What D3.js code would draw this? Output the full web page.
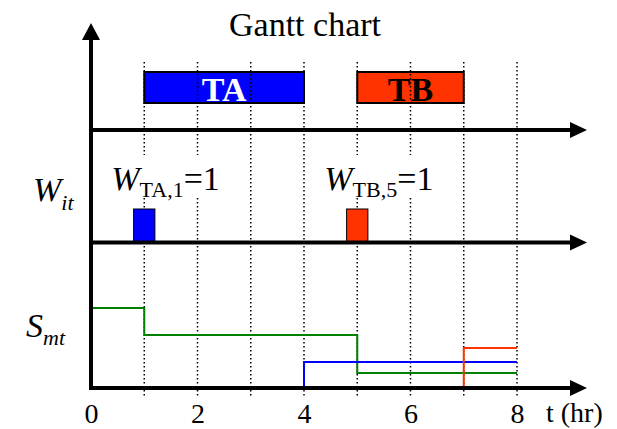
<!DOCTYPE html>
<html>
<head>
<meta charset="utf-8">
<script src="https://cdn.jsdelivr.net/npm/d3@7"></script>
<style>
  html, body { margin: 0; padding: 0; background: #fff; }
  svg, svg text { font-family: "Liberation Serif", "Times New Roman", serif !important; }
</style>
</head>
<body>
<div id="chart"></div>
<script>
// time grid (hours)
const gridHours = [1, 2, 3, 4, 5, 6, 7, 8];
const tickHours = [0, 2, 4, 6, 8];

// gantt tasks
const taskNames = ["TA", "TB"];
const taskStart = [1, 5];
const taskEnd = [4, 7];

// start indicators W_it
const startTask = ["TA", "TB"];
const startHour = [1, 5];

// state levels S_mt (step series)
const greenHours = [0, 1, 5, 8];
const greenLevels = [80, 53, 15, 15];
const blueHours = [4, 4, 8];
const blueLevels = [0, 26, 26];
const redHours = [7, 7, 8];
const redLevels = [0, 40, 40];

const width = 617;
const height = 429;
const originX = 91;
const ganttAxisY = 130;
const startAxisY = 242.5;
const stateAxisY = 388;
const axisEndX = 587;

const taskFill = { TA: "#0000ff", TB: "#ff3300" };
const taskText = { TA: "#ffffff", TB: "#000000" };

const svg = d3.select("#chart")
  .append("svg")
  .attr("width", width)
  .attr("height", height)
  .attr("viewBox", [0, 0, width, height]);

const x = d3.scaleLinear([0, 8], [originX, 517]);
const s = d3.scaleLinear([0, 80], [stateAxisY, 308]);

// title
svg.append("text")
  .attr("x", 305)
  .attr("y", 36)
  .attr("text-anchor", "middle")
  .attr("font-size", 34)
  .text("Gantt chart");

// gantt bars
const tasks = d3.range(taskNames.length);
svg.append("g")
  .selectAll("rect")
  .data(tasks)
  .join("rect")
  .attr("x", (i) => x(taskStart[i]))
  .attr("y", 72)
  .attr("width", (i) => x(taskEnd[i]) - x(taskStart[i]))
  .attr("height", 31)
  .attr("fill", (i) => taskFill[taskNames[i]])
  .attr("stroke", "#000")
  .attr("stroke-width", 2);

svg.append("g")
  .selectAll("text")
  .data(tasks)
  .join("text")
  .attr("x", (i) => (x(taskStart[i]) + x(taskEnd[i])) / 2)
  .attr("y", 101)
  .attr("text-anchor", "middle")
  .attr("font-size", 34)
  .attr("font-weight", "bold")
  .attr("fill", (i) => taskText[taskNames[i]])
  .text((i) => taskNames[i]);

// dotted hour lines
svg.append("g")
  .selectAll("line")
  .data(gridHours)
  .join("line")
  .attr("x1", (d) => x(d))
  .attr("x2", (d) => x(d))
  .attr("y1", 62)
  .attr("y2", 398)
  .attr("stroke", "#000")
  .attr("stroke-width", 1.5)
  .attr("stroke-dasharray", "1.5,2.5");

// W_task,hour = 1 labels with white background
const labels = svg.append("g");
startTask.forEach((task, i) => {
  const lx = x(startHour[i]) - 33;
  const g = labels.append("g");
  g.append("rect")
    .attr("x", lx - 4)
    .attr("y", 155)
    .attr("width", 126)
    .attr("height", 41)
    .attr("fill", "#fff");
  const t = g.append("text")
    .attr("x", lx)
    .attr("y", 190)
    .attr("font-size", 34);
  t.append("tspan").attr("font-style", "italic").text("W");
  t.append("tspan").attr("font-size", 22).attr("dy", 7).text(`${task},${startHour[i]}`);
  t.append("tspan").attr("dy", -7).text("=1");
});

// small start bars
svg.append("g")
  .selectAll("rect")
  .data(d3.range(startTask.length))
  .join("rect")
  .attr("x", (i) => x(startHour[i] - 0.2))
  .attr("y", 209)
  .attr("width", (i) => x(startHour[i] + 0.2) - x(startHour[i] - 0.2))
  .attr("height", startAxisY - 209)
  .attr("fill", (i) => taskFill[startTask[i]])
  .attr("stroke", "#000")
  .attr("stroke-width", 1);

// state step lines
const line = d3.line()
  .x((d) => x(d[0]))
  .y((d) => s(d[1]))
  .curve(d3.curveStepAfter);

const series = [
  { hours: greenHours, levels: greenLevels, color: "#008000" },
  { hours: blueHours, levels: blueLevels, color: "#0000ff" },
  { hours: redHours, levels: redLevels, color: "#ff3300" },
];

svg.append("g")
  .selectAll("path")
  .data(series)
  .join("path")
  .attr("fill", "none")
  .attr("stroke", (d) => d.color)
  .attr("stroke-width", 2)
  .attr("d", (d) => line(d.hours.map((h, i) => [h, d.levels[i]])));

// axes with arrow heads
const axes = svg.append("g").attr("stroke", "#000").attr("stroke-width", 4);
[ganttAxisY, startAxisY, stateAxisY].forEach((y) => {
  axes.append("line")
    .attr("x1", originX - 2)
    .attr("x2", axisEndX - 14)
    .attr("y1", y)
    .attr("y2", y);
  svg.append("path")
    .attr("d", `M${axisEndX},${y}L${axisEndX - 17},${y - 8}L${axisEndX - 17},${y + 8}Z`)
    .attr("fill", "#000");
});

axes.append("line")
  .attr("x1", originX)
  .attr("x2", originX)
  .attr("y1", stateAxisY + 2)
  .attr("y2", 38);
svg.append("path")
  .attr("d", `M${originX},23L${originX - 9},40L${originX + 9},40Z`)
  .attr("fill", "#000");

// lane labels
const wLabel = svg.append("text")
  .attr("x", 33)
  .attr("y", 201)
  .attr("font-size", 34)
  .attr("font-style", "italic");
wLabel.append("tspan").text("W");
wLabel.append("tspan").attr("font-size", 22).attr("dy", 9).text("it");

const sLabel = svg.append("text")
  .attr("x", 26)
  .attr("y", 337)
  .attr("font-size", 34)
  .attr("font-style", "italic");
sLabel.append("tspan").text("S");
sLabel.append("tspan").attr("font-size", 22).attr("dy", 8).text("mt");

// hour tick labels
svg.append("g")
  .attr("transform", `translate(0,${stateAxisY})`)
  .call(d3.axisBottom(x).tickValues(tickHours).tickSize(0).tickPadding(15).tickFormat(d3.format("d")))
  .call((g) => g.select(".domain").remove())
  .call((g) => g.attr("font-family", null).attr("font-size", null))
  .call((g) => g.selectAll("text")
    .attr("font-size", 28)
    .attr("fill", "#000"));

svg.append("text")
  .attr("x", 546)
  .attr("y", 422)
  .attr("font-size", 28)
  .text("t (hr)");
</script>
</body>
</html>
